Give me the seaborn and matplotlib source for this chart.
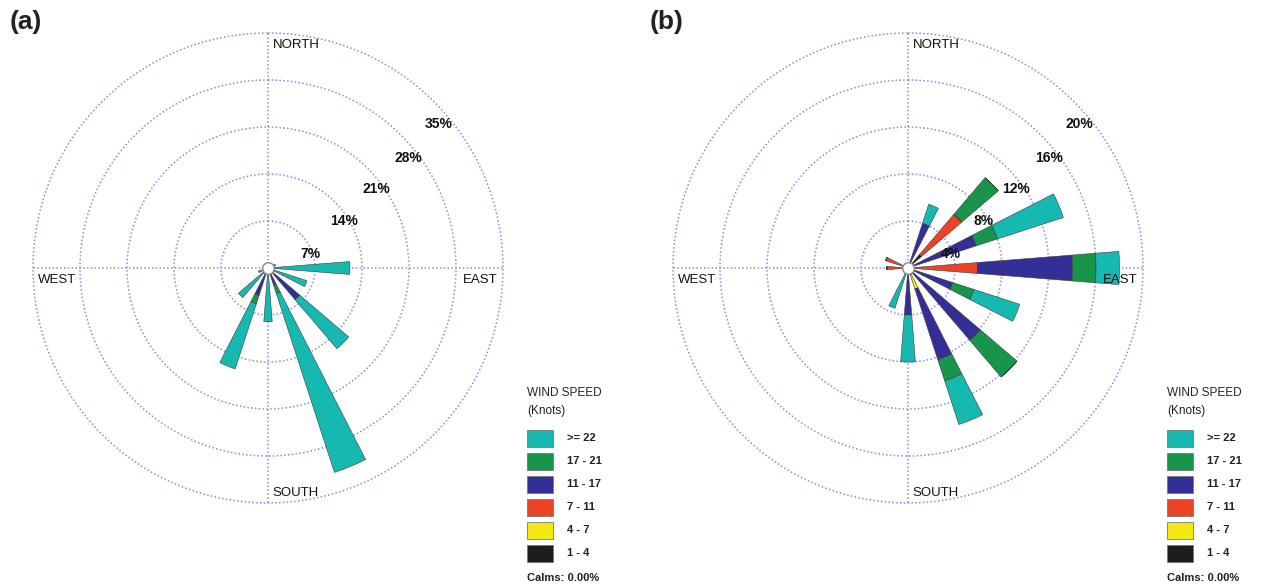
import numpy as np
import seaborn as sns
import matplotlib.pyplot as plt
from matplotlib.patches import Rectangle

sns.set_theme(style="white")
plt.rcParams["font.family"] = ["Liberation Sans", "DejaVu Sans"]

# 16 compass directions, clockwise from north
directions = ["N", "NNE", "NE", "ENE", "E", "ESE", "SE", "SSE",
              "S", "SSW", "SW", "WSW", "W", "WNW", "NW", "NNW"]
speed_bins = ["1 - 4", "4 - 7", "7 - 11", "11 - 17", "17 - 21", ">= 22"]
bin_colors = ["#1c1c1c", "#f2ea12", "#ee4226", "#332f96", "#17954b", "#16b9b0"]

# panel (a) - frequency (%) of each speed bin per direction
a_1_4 = [0, 0, 0, 0, 0.5, 0, 0, 0, 0, 0, 0, 0, 0, 0, 0, 0]
a_4_7 = [0, 0, 0, 0, 0, 0, 0, 0, 0, 0, 0, 0, 0, 0, 0, 0]
a_7_11 = [0, 0, 0, 0, 0, 0, 1.5, 0, 0, 0, 0, 0, 0, 0, 0, 0]
a_11_17 = [0, 0, 0, 0, 0, 0, 4.7, 2.7, 0, 4.3, 0, 0, 0, 0, 0, 0]
a_17_21 = [0, 0, 0, 0, 0.5, 0, 0, 1.3, 0, 1.3, 0, 0, 0, 0, 0, 0]
a_22 = [0, 0, 0, 1.2, 11.2, 6.1, 9.6, 28.0, 8.0, 10.2, 5.8, 1.5, 0, 0, 0, 0]

# panel (b)
b_1_4 = [0, 0, 1.5, 0, 0, 0, 0, 0.6, 0, 0, 0, 0, 0, 0, 0, 0]
b_4_7 = [0, 0, 0, 0, 0, 0, 0, 1.3, 0, 0, 0, 0, 0, 0, 0, 0]
b_7_11 = [0, 0, 4.5, 0, 5.9, 0, 0, 0, 0, 0, 0, 0, 1.8, 2.0, 0, 0]
b_11_17 = [0, 4.0, 0, 6.1, 8.1, 4.0, 8.1, 6.3, 4.0, 0, 0, 0, 0, 0, 0, 0]
b_17_21 = [0, 0, 4.1, 1.9, 2.0, 1.9, 4.1, 1.9, 0, 0, 0, 0, 0, 0, 0, 0]
b_22 = [0, 1.7, 0, 5.9, 2.0, 4.1, 0, 3.9, 4.0, 3.6, 0, 0, 0, 0, 0, 0]

a_rings = [7, 14, 21, 28, 35]
b_rings = [4, 8, 12, 16, 20]
ring_label_angles = [72, 58, 54, 52, 50]

W, H = 1261, 588
fig = plt.figure(figsize=(W / 100, H / 100), dpi=100)

grid_color = "#8a8ae2"


def draw_rose(cx, letter, series, rings):
    R = 235
    cy = 268
    ax = fig.add_axes([(cx - R) / W, (H - cy - R) / H, 2 * R / W, 2 * R / H],
                      projection="polar")
    ax.set_theta_zero_location("N")
    ax.set_theta_direction(-1)
    ax.set_facecolor("white")
    ax.spines["polar"].set_visible(False)

    theta = np.deg2rad(np.arange(16) * 22.5)
    bottom = np.zeros(16)
    for vals, col in zip(series, bin_colors):
        vals = np.array(vals, dtype=float)
        ax.bar(theta, vals, width=np.deg2rad(9), bottom=bottom, color=col,
               edgecolor="#3a3a3a", linewidth=0.4, zorder=3)
        bottom += vals

    ax.set_ylim(0, rings[-1])
    ax.set_rgrids(rings, labels=[])
    ax.set_thetagrids([0, 90, 180, 270], labels=[])
    ax.grid(True, color=grid_color, linestyle=(0, (1, 1.5)), linewidth=1.1)
    for gl in ax.yaxis.get_gridlines() + ax.xaxis.get_gridlines():
        gl.set_clip_on(False)
    ax.set_axisbelow(True)

    ax.scatter([0], [0], s=70, facecolor="white", edgecolor="#888888",
               linewidth=1.0, zorder=5)

    for r, ang in zip(rings, ring_label_angles):
        ax.text(np.deg2rad(ang), r * 0.95, f"{r}%", ha="center", va="center",
                fontsize=10, fontweight="bold", color="#111111", zorder=6)

    kw = dict(transform=ax.transAxes, fontsize=9.5, color="#111111", va="center")
    ax.text(0.511, 0.974, "NORTH", ha="left", **kw)
    ax.text(0.509, 0.021, "SOUTH", ha="left", **kw)
    ax.text(0.011, 0.474, "WEST", ha="left", **kw)
    ax.text(0.915, 0.474, "EAST", ha="left", **kw)

    fig.text((cx - 258) / W, 1 - 22 / H, letter, fontsize=19,
             fontweight="bold", ha="left", va="center", color="#222222")

    # legend
    lx = cx + 259
    fig.text(lx / W, 1 - 393 / H, "WIND SPEED", fontsize=8.5, ha="left",
             va="center", color="#222222")
    fig.text(lx / W, 1 - 411 / H, "(Knots)", fontsize=8.5, ha="left",
             va="center", color="#222222")
    for i, (lab, col) in enumerate(zip(speed_bins[::-1], bin_colors[::-1])):
        yc = 438 + i * 23
        fig.patches.append(Rectangle((lx / W, 1 - (yc + 8.5) / H), 26 / W, 17 / H,
                                     transform=fig.transFigure, facecolor=col,
                                     edgecolor="#777777", linewidth=0.6))
        fig.text((lx + 40) / W, 1 - yc / H, lab, fontsize=8, fontweight="bold",
                 ha="left", va="center", color="#222222")
    fig.text(lx / W, 1 - 578 / H, "Calms: 0.00%", fontsize=8, fontweight="bold",
             ha="left", va="center", color="#222222")


draw_rose(268, "(a)", [a_1_4, a_4_7, a_7_11, a_11_17, a_17_21, a_22], a_rings)
draw_rose(908, "(b)", [b_1_4, b_4_7, b_7_11, b_11_17, b_17_21, b_22], b_rings)

fig.savefig("out.png", dpi=100, facecolor="white")
